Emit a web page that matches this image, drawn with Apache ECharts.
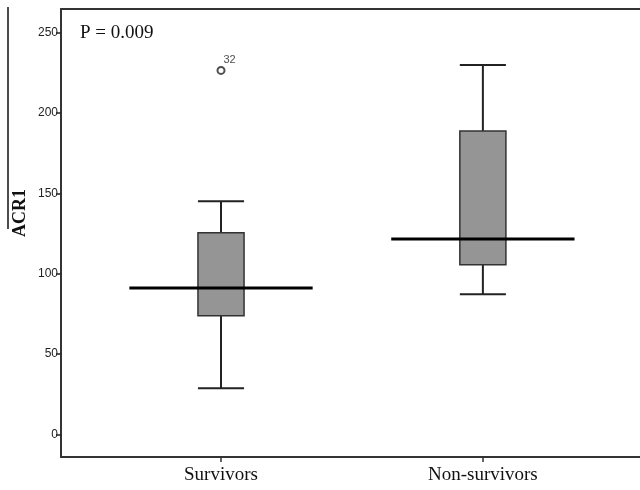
<!DOCTYPE html>
<html>
<head>
<meta charset="utf-8">
<script src="https://cdn.jsdelivr.net/npm/echarts@6/dist/echarts.min.js"></script>
<style>
  html, body { margin: 0; padding: 0; background: #fff; }
  #chart { width: 640px; height: 490px; }
</style>
</head>
<body>
<div id="chart"></div>
<script>
// groups and their x positions
const categories = ['Survivors', 'Non-survivors'];
const positions = [1, 2];

// box summary per group
const whiskerLow = [28.8, 87.2];
const q1 = [73.8, 105.6];
const median = [91.1, 121.6];
const q3 = [125.5, 188.7];
const whiskerHigh = [145.1, 229.8];

// outliers: [x, value, case label]
const outliers = [[1, 226.4, '32']];

const yTicks = [0, 50, 100, 150, 200, 250];

const boxData = positions.map((x, i) => [x, whiskerLow[i], q1[i], median[i], q3[i], whiskerHigh[i]]);

const myChart = echarts.init(document.getElementById('chart'));

const boxHalf = 0.088;
const medianHalf = 0.35;

function renderBox(params, api) {
    const x = api.value(0);
    const low = api.coord([x, api.value(1)]);
    const b1 = api.coord([x, api.value(2)]);
    const md = api.coord([x, api.value(3)]);
    const b3 = api.coord([x, api.value(4)]);
    const high = api.coord([x, api.value(5)]);
    const left = api.coord([x - boxHalf, 0])[0];
    const right = api.coord([x + boxHalf, 0])[0];
    const mLeft = api.coord([x - medianHalf, 0])[0];
    const mRight = api.coord([x + medianHalf, 0])[0];
    const lineStyle = { stroke: '#222', lineWidth: 2 };
    return {
        type: 'group',
        children: [
            { type: 'line', shape: { x1: low[0], y1: low[1], x2: b1[0], y2: b1[1] }, style: lineStyle },
            { type: 'line', shape: { x1: b3[0], y1: b3[1], x2: high[0], y2: high[1] }, style: lineStyle },
            { type: 'line', shape: { x1: left, y1: low[1], x2: right, y2: low[1] }, style: lineStyle },
            { type: 'line', shape: { x1: left, y1: high[1], x2: right, y2: high[1] }, style: lineStyle },
            {
                type: 'rect',
                shape: { x: left, y: b3[1], width: right - left, height: b1[1] - b3[1] },
                style: { fill: '#959595', stroke: '#333', lineWidth: 1.5 }
            },
            { type: 'line', shape: { x1: mLeft, y1: md[1], x2: mRight, y2: md[1] }, style: { stroke: '#000', lineWidth: 3 } }
        ]
    };
}

const option = {
    animation: false,
    grid: { left: 61, right: 0, top: 9, bottom: 33 },
    xAxis: [{
        type: 'value',
        min: 0.389,
        max: 2.6,
        splitLine: { show: false },
        axisLine: { show: true, onZero: false, lineStyle: { color: '#333', width: 2 } },
        axisTick: { show: true, customValues: positions, length: 5, lineStyle: { color: '#333', width: 1.5 } },
        axisLabel: {
            customValues: positions,
            formatter: v => categories[positions.indexOf(v)] || '',
            fontFamily: '"Liberation Serif", "Times New Roman", serif',
            fontSize: 19,
            color: '#111',
            margin: 9
        }
    }, {
        type: 'value',
        position: 'top',
        min: 0.389,
        max: 2.6,
        splitLine: { show: false },
        axisLine: { show: true, onZero: false, lineStyle: { color: '#333', width: 2 } },
        axisTick: { show: false },
        axisLabel: { show: false }
    }],
    yAxis: {
        type: 'value',
        min: -14,
        max: 264.6,
        splitLine: { show: false },
        axisLine: { show: true, onZero: false, lineStyle: { color: '#333', width: 2 } },
        axisTick: { show: true, customValues: yTicks, length: 5, lineStyle: { color: '#222', width: 1.5 } },
        axisLabel: {
            customValues: yTicks,
            fontFamily: '"Liberation Sans", Arial, sans-serif',
            fontSize: 12,
            color: '#222',
            margin: 3
        }
    },
    graphic: [
        {
            type: 'text',
            left: 80,
            top: 24,
            style: {
                text: 'P = 0.009',
                font: '19px "Liberation Serif", "Times New Roman", serif',
                fill: '#111'
            }
        },
        {
            type: 'text',
            x: 20,
            y: 213,
            rotation: Math.PI / 2,
            style: {
                text: 'ACR1',
                font: 'bold 18px "Liberation Serif", "Times New Roman", serif',
                fill: '#111',
                align: 'center',
                verticalAlign: 'middle'
            }
        },
        {
            type: 'line',
            shape: { x1: 8, y1: 7, x2: 8, y2: 229 },
            style: { stroke: '#111', lineWidth: 1.5 }
        }
    ],
    series: [
        {
            type: 'custom',
            renderItem: renderBox,
            data: boxData,
            encode: { x: 0, y: [1, 2, 3, 4, 5] }
        },
        {
            type: 'scatter',
            symbol: 'emptyCircle',
            symbolSize: 7,
            itemStyle: { color: '#222', borderColor: '#222', borderWidth: 1.5 },
            data: outliers.map(o => [o[0], o[1], o[2]]),
            label: {
                show: true,
                formatter: p => p.value[2],
                position: [7, -11],
                fontFamily: '"Liberation Sans", Arial, sans-serif',
                fontSize: 11,
                color: '#222'
            }
        }
    ]
};

myChart.setOption(option);
</script>
</body>
</html>
